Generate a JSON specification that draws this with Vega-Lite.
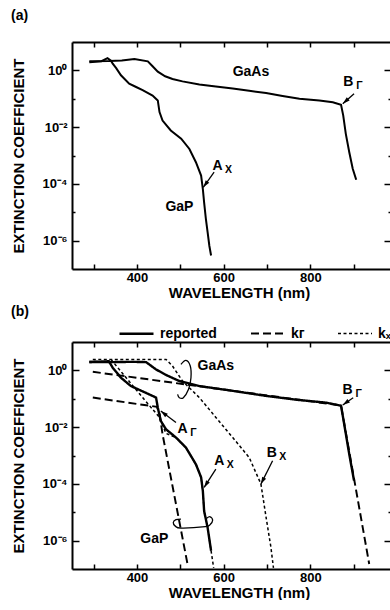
{
  "$schema": "https://vega.github.io/schema/vega-lite/v6.json",
  "padding": {"left": 10, "top": 9, "right": 0, "bottom": 0},
  "spacing": 5,
  "resolve": {"scale": {"strokeDash": "independent", "strokeWidth": "independent"}, "legend": {"strokeDash": "independent", "strokeWidth": "independent"}},
  "datasets": {
    "curves": [
      {"p":"a","s":"GaAs","t":"reported","wl":290,"k":2.08},{"p":"a","s":"GaAs","t":"reported","wl":336,"k":2.15},{"p":"a","s":"GaAs","t":"reported","wl":365,"k":2.25},{"p":"a","s":"GaAs","t":"reported","wl":394,"k":2.5},{"p":"a","s":"GaAs","t":"reported","wl":425,"k":2.08},{"p":"a","s":"GaAs","t":"reported","wl":436,"k":1.4},{"p":"a","s":"GaAs","t":"reported","wl":448,"k":0.9},{"p":"a","s":"GaAs","t":"reported","wl":465,"k":0.62},{"p":"a","s":"GaAs","t":"reported","wl":482,"k":0.5},{"p":"a","s":"GaAs","t":"reported","wl":505,"k":0.41},{"p":"a","s":"GaAs","t":"reported","wl":544,"k":0.32},{"p":"a","s":"GaAs","t":"reported","wl":582,"k":0.27},{"p":"a","s":"GaAs","t":"reported","wl":621,"k":0.23},{"p":"a","s":"GaAs","t":"reported","wl":659,"k":0.19},{"p":"a","s":"GaAs","t":"reported","wl":698,"k":0.16},{"p":"a","s":"GaAs","t":"reported","wl":736,"k":0.125},{"p":"a","s":"GaAs","t":"reported","wl":775,"k":0.1},{"p":"a","s":"GaAs","t":"reported","wl":821,"k":0.087},{"p":"a","s":"GaAs","t":"reported","wl":852,"k":0.075},{"p":"a","s":"GaAs","t":"reported","wl":871,"k":0.061},{"p":"a","s":"GaAs","t":"reported","wl":876,"k":0.026},{"p":"a","s":"GaAs","t":"reported","wl":882,"k":0.0058},{"p":"a","s":"GaAs","t":"reported","wl":890,"k":0.0013},{"p":"a","s":"GaAs","t":"reported","wl":898,"k":0.00034},{"p":"a","s":"GaAs","t":"reported","wl":906,"k":0.00014},
      {"p":"a","s":"GaP","t":"reported","wl":290,"k":1.95},{"p":"a","s":"GaP","t":"reported","wl":318,"k":2.1},{"p":"a","s":"GaP","t":"reported","wl":332,"k":2.7},{"p":"a","s":"GaP","t":"reported","wl":340,"k":2.2},{"p":"a","s":"GaP","t":"reported","wl":344,"k":1.72},{"p":"a","s":"GaP","t":"reported","wl":352,"k":1.2},{"p":"a","s":"GaP","t":"reported","wl":363,"k":0.67},{"p":"a","s":"GaP","t":"reported","wl":382,"k":0.34},{"p":"a","s":"GaP","t":"reported","wl":398,"k":0.26},{"p":"a","s":"GaP","t":"reported","wl":413,"k":0.2},{"p":"a","s":"GaP","t":"reported","wl":436,"k":0.13},{"p":"a","s":"GaP","t":"reported","wl":448,"k":0.087},{"p":"a","s":"GaP","t":"reported","wl":452,"k":0.034},{"p":"a","s":"GaP","t":"reported","wl":459,"k":0.017},{"p":"a","s":"GaP","t":"reported","wl":478,"k":0.0076},{"p":"a","s":"GaP","t":"reported","wl":502,"k":0.0039},{"p":"a","s":"GaP","t":"reported","wl":521,"k":0.0017},{"p":"a","s":"GaP","t":"reported","wl":536,"k":0.00058},{"p":"a","s":"GaP","t":"reported","wl":548,"k":0.000196},{"p":"a","s":"GaP","t":"reported","wl":552,"k":0.000066},{"p":"a","s":"GaP","t":"reported","wl":555,"k":0.000022},{"p":"a","s":"GaP","t":"reported","wl":559,"k":0.0000058},{"p":"a","s":"GaP","t":"reported","wl":563,"k":0.000002},{"p":"a","s":"GaP","t":"reported","wl":567,"k":0.00000066},{"p":"a","s":"GaP","t":"reported","wl":571,"k":0.0000003},
      {"p":"b","s":"GaAs-rep","t":"reported","wl":290,"k":1.97},{"p":"b","s":"GaAs-rep","t":"reported","wl":336,"k":1.95},{"p":"b","s":"GaAs-rep","t":"reported","wl":390,"k":2.0},{"p":"b","s":"GaAs-rep","t":"reported","wl":421,"k":1.95},{"p":"b","s":"GaAs-rep","t":"reported","wl":444,"k":1.08},{"p":"b","s":"GaAs-rep","t":"reported","wl":467,"k":0.69},{"p":"b","s":"GaAs-rep","t":"reported","wl":498,"k":0.42},{"p":"b","s":"GaAs-rep","t":"reported","wl":544,"k":0.28},{"p":"b","s":"GaAs-rep","t":"reported","wl":621,"k":0.19},{"p":"b","s":"GaAs-rep","t":"reported","wl":698,"k":0.126},{"p":"b","s":"GaAs-rep","t":"reported","wl":775,"k":0.09},{"p":"b","s":"GaAs-rep","t":"reported","wl":836,"k":0.073},{"p":"b","s":"GaAs-rep","t":"reported","wl":871,"k":0.057},{"p":"b","s":"GaAs-rep","t":"reported","wl":878,"k":0.0135},{"p":"b","s":"GaAs-rep","t":"reported","wl":890,"k":0.0011},{"p":"b","s":"GaAs-rep","t":"reported","wl":901,"k":0.00013},
      {"p":"b","s":"GaAs-kG","t":"kΓ","wl":298,"k":0.89},{"p":"b","s":"GaAs-kG","t":"kΓ","wl":871,"k":0.058},{"p":"b","s":"GaAs-kG","t":"kΓ","wl":936,"k":0.00000015},
      {"p":"b","s":"GaAs-kX","t":"kX","wl":298,"k":2.44},{"p":"b","s":"GaAs-kX","t":"kX","wl":467,"k":2.44},{"p":"b","s":"GaAs-kX","t":"kX","wl":482,"k":1.42},{"p":"b","s":"GaAs-kX","t":"kX","wl":505,"k":0.42},{"p":"b","s":"GaAs-kX","t":"kX","wl":544,"k":0.11},{"p":"b","s":"GaAs-kX","t":"kX","wl":582,"k":0.022},{"p":"b","s":"GaAs-kX","t":"kX","wl":621,"k":0.0043},{"p":"b","s":"GaAs-kX","t":"kX","wl":659,"k":0.00085},{"p":"b","s":"GaAs-kX","t":"kX","wl":686,"k":0.0001},{"p":"b","s":"GaAs-kX","t":"kX","wl":698,"k":0.0000066},{"p":"b","s":"GaAs-kX","t":"kX","wl":709,"k":0.0000006},{"p":"b","s":"GaAs-kX","t":"kX","wl":715,"k":0.00000011},
      {"p":"b","s":"GaP-rep","t":"reported","wl":290,"k":1.97},{"p":"b","s":"GaP-rep","t":"reported","wl":335,"k":2.1},{"p":"b","s":"GaP-rep","t":"reported","wl":344,"k":1.24},{"p":"b","s":"GaP-rep","t":"reported","wl":363,"k":0.55},{"p":"b","s":"GaP-rep","t":"reported","wl":386,"k":0.28},{"p":"b","s":"GaP-rep","t":"reported","wl":421,"k":0.16},{"p":"b","s":"GaP-rep","t":"reported","wl":444,"k":0.11},{"p":"b","s":"GaP-rep","t":"reported","wl":448,"k":0.049},{"p":"b","s":"GaP-rep","t":"reported","wl":455,"k":0.0165},{"p":"b","s":"GaP-rep","t":"reported","wl":467,"k":0.0084},{"p":"b","s":"GaP-rep","t":"reported","wl":490,"k":0.0043},{"p":"b","s":"GaP-rep","t":"reported","wl":513,"k":0.0019},{"p":"b","s":"GaP-rep","t":"reported","wl":536,"k":0.00049},{"p":"b","s":"GaP-rep","t":"reported","wl":548,"k":0.00017},{"p":"b","s":"GaP-rep","t":"reported","wl":552,"k":0.000057},{"p":"b","s":"GaP-rep","t":"reported","wl":555,"k":0.000011},{"p":"b","s":"GaP-rep","t":"reported","wl":563,"k":0.0000029},{"p":"b","s":"GaP-rep","t":"reported","wl":571,"k":0.00000044},
      {"p":"b","s":"GaP-kG","t":"kΓ","wl":298,"k":0.11},{"p":"b","s":"GaP-kG","t":"kΓ","wl":446,"k":0.052},{"p":"b","s":"GaP-kG","t":"kΓ","wl":452,"k":0.03},{"p":"b","s":"GaP-kG","t":"kΓ","wl":459,"k":0.0056},{"p":"b","s":"GaP-kG","t":"kΓ","wl":517,"k":0.00000014},
      {"p":"b","s":"GaP-kX","t":"kX","wl":340,"k":2.44},{"p":"b","s":"GaP-kX","t":"kX","wl":375,"k":0.55},{"p":"b","s":"GaP-kX","t":"kX","wl":413,"k":0.11},{"p":"b","s":"GaP-kX","t":"kX","wl":452,"k":0.022},{"p":"b","s":"GaP-kX","t":"kX","wl":467,"k":0.006},{"p":"b","s":"GaP-kX","t":"kX","wl":490,"k":0.0043},{"p":"b","s":"GaP-kX","t":"kX","wl":513,"k":0.0019},{"p":"b","s":"GaP-kX","t":"kX","wl":536,"k":0.00049},{"p":"b","s":"GaP-kX","t":"kX","wl":548,"k":0.00017},{"p":"b","s":"GaP-kX","t":"kX","wl":552,"k":0.000057},{"p":"b","s":"GaP-kX","t":"kX","wl":555,"k":0.000011},{"p":"b","s":"GaP-kX","t":"kX","wl":563,"k":0.0000029},{"p":"b","s":"GaP-kX","t":"kX","wl":571,"k":0.00000044},{"p":"b","s":"GaP-kX","t":"kX","wl":577,"k":0.00000011}
    ],
    "labels": [
      {"p":"a","label":"GaAs","sub":"","wl":663,"k":0.87},
      {"p":"a","label":"B","sub":"Γ","wl":888,"k":0.39},
      {"p":"a","label":"A","sub":"X","wl":586,"k":0.00044},
      {"p":"a","label":"GaP","sub":"","wl":498,"k":0.000015},
      {"p":"b","label":"GaAs","sub":"","wl":582,"k":1.42},
      {"p":"b","label":"B","sub":"Γ","wl":886,"k":0.2},
      {"p":"b","label":"A","sub":"Γ","wl":505,"k":0.0089},
      {"p":"b","label":"B","sub":"X","wl":711,"k":0.00127},
      {"p":"b","label":"A","sub":"X","wl":590,"k":0.00062},
      {"p":"b","label":"GaP","sub":"","wl":440,"k":0.00000114}
    ],
    "arrows": [
      {"p":"a","wl":901,"k":0.15,"wl2":875,"k2":0.067,"dir":229},
      {"p":"a","wl":578,"k":0.000257,"wl2":553,"k2":0.000076,"dir":216},
      {"p":"b","wl":899,"k":0.109,"wl2":875,"k2":0.0605,"dir":235},
      {"p":"b","wl":490,"k":0.0145,"wl2":455,"k2":0.037,"dir":308},
      {"p":"b","wl":713,"k":0.00065,"wl2":686,"k2":0.000098,"dir":207},
      {"p":"b","wl":582,"k":0.00033,"wl2":555,"k2":0.000075,"dir":212}
    ],
    "loops": [
      {"loop":"GaAs","i":0,"wl":501.5,"k":1.63},{"loop":"GaAs","i":1,"wl":513,"k":2.25},{"loop":"GaAs","i":2,"wl":523,"k":1.42},{"loop":"GaAs","i":3,"wl":524.6,"k":0.552},{"loop":"GaAs","i":4,"wl":519,"k":0.215},{"loop":"GaAs","i":5,"wl":507,"k":0.109},{"loop":"GaAs","i":6,"wl":497.7,"k":0.109},{"loop":"GaAs","i":7,"wl":493.8,"k":0.143},
      {"loop":"GaP","i":0,"wl":501.5,"k":0.00000575},{"loop":"GaP","i":1,"wl":490,"k":0.0000055},{"loop":"GaP","i":2,"wl":483.8,"k":0.00000437},{"loop":"GaP","i":3,"wl":488.5,"k":0.00000324},{"loop":"GaP","i":4,"wl":501.5,"k":0.00000275},{"loop":"GaP","i":5,"wl":557.7,"k":0.00000309},{"loop":"GaP","i":6,"wl":568.5,"k":0.00000363},{"loop":"GaP","i":7,"wl":574.6,"k":0.00000525},{"loop":"GaP","i":8,"wl":569,"k":0.00000692},{"loop":"GaP","i":9,"wl":560.8,"k":0.00000617}
    ]
  },
  "vconcat": [
    {
      "width": 318, "height": 227,
      "title": {"text": "(a)", "anchor": "start", "frame": "bounds", "fontSize": 14, "fontWeight": "bold", "offset": 18, "color": "black"},
      "layer": [
        {
          "data": {"name": "curves"},
          "transform": [{"filter": "datum.p == 'a'"}],
          "mark": {"type": "line", "color": "black", "strokeWidth": 2},
          "encoding": {
            "x": {"field": "wl", "type": "quantitative", "scale": {"domain": [250, 984], "nice": false, "zero": false},
                  "axis": {"orient": "bottom", "values": [300,400,500,600,700,800,900], "labelExpr": "datum.value % 200 == 0 ? datum.label : ''", "tickSize": -5, "labelPadding": 7, "title": "WAVELENGTH (nm)", "titleX": 167, "titleY": 23, "titleAlign": "center", "titleBaseline": "middle"}},
            "y": {"field": "k", "type": "quantitative", "scale": {"type": "log", "domain": [0.0000001, 10], "nice": false},
                  "axis": {"orient": "left", "values": [1,0.1,0.01,0.001,0.0001,0.00001,0.000001], "labelExpr": "round(log(datum.value)/LN10) == 0 ? '10⁰' : round(log(datum.value)/LN10) == -2 ? '10⁻²' : round(log(datum.value)/LN10) == -4 ? '10⁻⁴' : round(log(datum.value)/LN10) == -6 ? '10⁻⁶' : ''", "tickSize": {"condition": {"test": "round(log(datum.value)/LN10) % 2 == 0", "value": -7}, "value": -3}, "labelPadding": 12, "title": "EXTINCTION COEFFICIENT", "titleX": -54, "titleY": 113.5, "titleAngle": -90, "titleAlign": "center", "titleBaseline": "middle"}},
            "detail": {"field": "s"}
          }
        },
        {
          "data": {"name": "labels"},
          "transform": [{"filter": "datum.p == 'a'"}],
          "mark": {"type": "text", "fontSize": 14, "fontWeight": "bold", "color": "black", "align": "center", "baseline": "middle"},
          "encoding": {
            "x": {"field": "wl", "type": "quantitative", "axis": {"orient": "top", "values": [300,400,500,600,700,800,900], "labels": false, "title": null, "tickSize": -5}},
            "y": {"field": "k", "type": "quantitative", "axis": {"orient": "right", "values": [1,0.1,0.01,0.001,0.0001,0.00001,0.000001], "labels": false, "title": null, "domain": false, "tickSize": {"condition": {"test": "round(log(datum.value)/LN10) % 2 == 0", "value": -6}, "value": -2}}},
            "text": {"field": "label"}
          }
        },
        {
          "data": {"name": "labels"},
          "transform": [{"filter": "datum.p == 'a' && datum.sub != ''"}],
          "mark": {"type": "text", "fontSize": 10.5, "fontWeight": "bold", "color": "black", "align": "center", "baseline": "middle", "dx": 11, "dy": 4},
          "encoding": {
            "x": {"field": "wl", "type": "quantitative", "axis": null},
            "y": {"field": "k", "type": "quantitative", "axis": null},
            "text": {"field": "sub"}
          }
        },
        {
          "data": {"name": "arrows"},
          "transform": [{"filter": "datum.p == 'a'"}],
          "mark": {"type": "rule", "color": "black", "strokeWidth": 1.3},
          "encoding": {
            "x": {"field": "wl", "type": "quantitative", "axis": null},
            "y": {"field": "k", "type": "quantitative", "axis": null},
            "x2": {"field": "wl2"},
            "y2": {"field": "k2"}
          }
        },
        {
          "data": {"name": "arrows"},
          "transform": [{"filter": "datum.p == 'a'"}],
          "mark": {"type": "point", "shape": "M0,0L-0.55,1.8L0.55,1.8Z", "filled": true, "color": "black", "size": 64, "opacity": 1},
          "encoding": {
            "x": {"field": "wl2", "type": "quantitative", "axis": null},
            "y": {"field": "k2", "type": "quantitative", "axis": null},
            "angle": {"field": "dir", "type": "quantitative", "scale": null}
          }
        }
      ],
      "resolve": {"axis": {"x": "independent", "y": "independent"}}
    },
    {
      "width": 318, "height": 227,
      "title": {"text": "(b)", "anchor": "start", "frame": "bounds", "fontSize": 14, "fontWeight": "bold", "offset": -4, "color": "black"},
      "layer": [
        {
          "data": {"name": "curves"},
          "transform": [{"filter": "datum.p == 'b'"}],
          "mark": {"type": "line", "color": "black"},
          "encoding": {
            "x": {"field": "wl", "type": "quantitative", "scale": {"domain": [250, 984], "nice": false, "zero": false},
                  "axis": {"orient": "bottom", "values": [300,400,500,600,700,800,900], "labelExpr": "datum.value % 200 == 0 ? datum.label : ''", "tickSize": -5, "labelPadding": 7, "title": "WAVELENGTH (nm)", "titleX": 167, "titleY": 23, "titleAlign": "center", "titleBaseline": "middle"}},
            "y": {"field": "k", "type": "quantitative", "scale": {"type": "log", "domain": [0.0000001, 10], "nice": false},
                  "axis": {"orient": "left", "values": [1,0.1,0.01,0.001,0.0001,0.00001,0.000001], "labelExpr": "round(log(datum.value)/LN10) == 0 ? '10⁰' : round(log(datum.value)/LN10) == -2 ? '10⁻²' : round(log(datum.value)/LN10) == -4 ? '10⁻⁴' : round(log(datum.value)/LN10) == -6 ? '10⁻⁶' : ''", "tickSize": {"condition": {"test": "round(log(datum.value)/LN10) % 2 == 0", "value": -7}, "value": -3}, "labelPadding": 12, "title": "EXTINCTION COEFFICIENT", "titleX": -54, "titleY": 113.5, "titleAngle": -90, "titleAlign": "center", "titleBaseline": "middle"}},
            "detail": {"field": "s"},
            "strokeDash": {"field": "t", "type": "nominal", "scale": {"domain": ["reported", "kΓ", "kX"], "range": [[1, 0], [8, 4], [3, 2.5]]},
                           "legend": {"title": null, "orient": "none", "legendX": 46, "legendY": -27, "direction": "horizontal", "symbolType": "stroke", "symbolSize": 1156, "symbolStrokeWidth": 1.3, "symbolStrokeColor": "black", "labelFontSize": 14, "labelFontWeight": "bold", "labelColor": "black", "labelOffset": 5, "columnPadding": 30, "labelExpr": "datum.label == 'kΓ' ? 'kᴦ' : datum.label == 'kX' ? 'kₓ' : datum.label"}},
            "strokeWidth": {"field": "t", "type": "nominal", "scale": {"domain": ["reported", "kΓ", "kX"], "range": [2.4, 1.5, 1.3]}, "legend": null}
          }
        },
        {
          "data": {"name": "loops"},
          "mark": {"type": "line", "color": "black", "strokeWidth": 1.3, "interpolate": "cardinal"},
          "encoding": {
            "x": {"field": "wl", "type": "quantitative", "axis": {"orient": "top", "values": [300,400,500,600,700,800,900], "labels": false, "title": null, "tickSize": -5}},
            "y": {"field": "k", "type": "quantitative", "axis": {"orient": "right", "values": [1,0.1,0.01,0.001,0.0001,0.00001,0.000001], "labels": false, "title": null, "domain": false, "tickSize": {"condition": {"test": "round(log(datum.value)/LN10) % 2 == 0", "value": -6}, "value": -2}}},
            "detail": {"field": "loop"},
            "order": {"field": "i"}
          }
        },
        {
          "data": {"name": "labels"},
          "transform": [{"filter": "datum.p == 'b'"}],
          "mark": {"type": "text", "fontSize": 14, "fontWeight": "bold", "color": "black", "align": "center", "baseline": "middle"},
          "encoding": {
            "x": {"field": "wl", "type": "quantitative", "axis": null},
            "y": {"field": "k", "type": "quantitative", "axis": null},
            "text": {"field": "label"}
          }
        },
        {
          "data": {"name": "labels"},
          "transform": [{"filter": "datum.p == 'b' && datum.sub != ''"}],
          "mark": {"type": "text", "fontSize": 10.5, "fontWeight": "bold", "color": "black", "align": "center", "baseline": "middle", "dx": 11, "dy": 4},
          "encoding": {
            "x": {"field": "wl", "type": "quantitative", "axis": null},
            "y": {"field": "k", "type": "quantitative", "axis": null},
            "text": {"field": "sub"}
          }
        },
        {
          "data": {"name": "arrows"},
          "transform": [{"filter": "datum.p == 'b'"}],
          "mark": {"type": "rule", "color": "black", "strokeWidth": 1.3},
          "encoding": {
            "x": {"field": "wl", "type": "quantitative", "axis": null},
            "y": {"field": "k", "type": "quantitative", "axis": null},
            "x2": {"field": "wl2"},
            "y2": {"field": "k2"}
          }
        },
        {
          "data": {"name": "arrows"},
          "transform": [{"filter": "datum.p == 'b'"}],
          "mark": {"type": "point", "shape": "M0,0L-0.55,1.8L0.55,1.8Z", "filled": true, "color": "black", "size": 64, "opacity": 1},
          "encoding": {
            "x": {"field": "wl2", "type": "quantitative", "axis": null},
            "y": {"field": "k2", "type": "quantitative", "axis": null},
            "angle": {"field": "dir", "type": "quantitative", "scale": null}
          }
        }
      ],
      "resolve": {"axis": {"x": "independent", "y": "independent"}}
    }
  ],
  "config": {
    "view": {"stroke": null},
    "font": "Liberation Sans",
    "axis": {"domainColor": "black", "domainWidth": 2, "tickColor": "black", "tickWidth": 1.5, "labelColor": "black", "labelFontSize": 13, "labelFontWeight": "bold", "labelFont": "Liberation Sans", "titleColor": "black", "titleFontSize": 15, "titleFontWeight": "bold", "titleFont": "Liberation Sans", "grid": false},
    "legend": {"labelFont": "Liberation Sans"},
    "text": {"font": "Liberation Sans"},
    "title": {"font": "Liberation Sans"}
  }
}
